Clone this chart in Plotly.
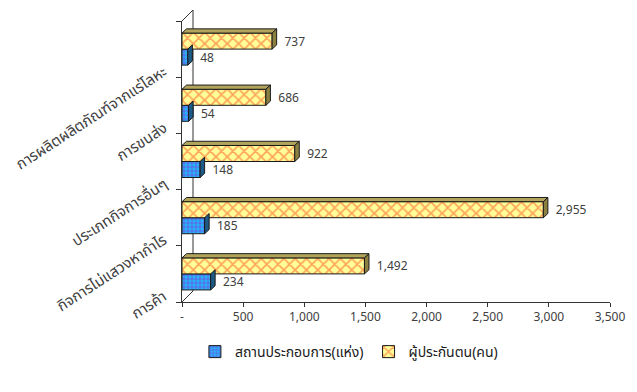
import plotly.graph_objects as go

categories = [
    "การค้า",
    "กิจการไม่แสวงหากำไร",
    "ประเภทกิจการอื่นๆ",
    "การขนส่ง",
    "การผลิตผลิตภัณฑ์จากแร่โลหะ",
]
establishments = [234, 185, 148, 54, 48]
insured = [1492, 2955, 922, 686, 737]

x_ticks = [0, 500, 1000, 1500, 2000, 2500, 3000, 3500]
x_tick_text = ["-", "500", "1,000", "1,500", "2,000", "2,500", "3,000", "3,500"]

FONT = "Tahoma, 'Noto Sans', 'Noto Sans Thai', sans-serif"
TEXT_COLOR = "#404040"
AXIS_COLOR = "#333333"

# bar geometry (in data units) used for the fake 3D faces
BARGAP = 0.43
BAR_W = (1 - BARGAP) / 2
DX = 37      # depth along x, ~4.5 px
DY = 0.075   # depth along y, ~4 px

y_pos = list(range(len(categories)))

fig = go.Figure()
fig.add_trace(go.Bar(
    y=y_pos,
    x=establishments,
    orientation="h",
    name="สถานประกอบการ(แห่ง)",
    marker=dict(
        color="#22b8f5",
        line=dict(color="#1a1a1a", width=1),
        pattern=dict(shape=".", fgcolor="#8a2be2", bgcolor="#22b8f5",
                     size=4, solidity=0.55),
    ),
    texttemplate="\u00a0\u00a0\u00a0%{x:,}",
    textposition="outside",
    textfont=dict(size=13.5, color=TEXT_COLOR),
    cliponaxis=False,
))
fig.add_trace(go.Bar(
    y=y_pos,
    x=insured,
    orientation="h",
    name="ผู้ประกันตน(คน)",
    marker=dict(
        color="#ffff99",
        line=dict(color="#1a1a1a", width=1),
        pattern=dict(shape="x", fgcolor="#ff4d1a", bgcolor="#ffff99",
                     size=8, solidity=0.4),
    ),
    texttemplate="\u00a0\u00a0\u00a0%{x:,}",
    textposition="outside",
    textfont=dict(size=13.5, color=TEXT_COLOR),
    cliponaxis=False,
))

shapes = []
# back wall of the 3D plot
wall_dx, wall_dy = 11 / 428, 11 / 281
for y0 in (0, 1):
    shapes.append(dict(type="line", xref="paper", yref="paper",
                       x0=0, y0=y0, x1=wall_dx, y1=y0 + wall_dy,
                       line=dict(color=AXIS_COLOR, width=1), layer="below"))
shapes.append(dict(type="line", xref="paper", yref="paper",
                   x0=wall_dx, y0=wall_dy, x1=wall_dx, y1=1 + wall_dy,
                   line=dict(color=AXIS_COLOR, width=1), layer="below"))


def face(pts, color):
    path = "M " + " L ".join(f"{x},{y}" for x, y in pts) + " Z"
    return dict(type="path", xref="x", yref="y", path=path,
                fillcolor=color, line=dict(color="#1a1a1a", width=1),
                layer="above")


for i, (e, p) in enumerate(zip(establishments, insured)):
    # blue bar: [i - BAR_W, i], side face only
    b0, b1 = i - BAR_W, i
    shapes.append(face([(e, b0), (e, b1), (e + DX, b1 + DY), (e + DX, b0 + DY)], "#1d5a86"))
    # yellow bar: [i, i + BAR_W]
    y0, y1 = i, i + BAR_W
    shapes.append(face([(0, y1), (p, y1), (p + DX, y1 + DY), (DX, y1 + DY)], "#b3a45c"))
    shapes.append(face([(p, y0), (p, y1), (p + DX, y1 + DY), (p + DX, y0 + DY)], "#8c8040"))

# rotated category labels
annotations = []
for i, cat in enumerate(categories):
    annotations.append(dict(
        xref="paper", yref="y", x=0, y=i,
        text=cat, showarrow=False, textangle=-33,
        xanchor="right", yanchor="top", xshift=-9, yshift=-9,
        font=dict(size=15, color=TEXT_COLOR, family=FONT),
    ))

fig.update_layout(
    width=629,
    height=384,
    barmode="group",
    bargap=BARGAP,
    bargroupgap=0,
    paper_bgcolor="white",
    plot_bgcolor="white",
    font=dict(family=FONT, size=12, color=TEXT_COLOR),
    margin=dict(l=174, r=27, t=13, b=90),
    showlegend=True,
    legend=dict(
        orientation="h",
        x=0.39, xanchor="center",
        y=-0.178, yanchor="middle",
        font=dict(size=14, color="#1a1a1a"),
        traceorder="normal",
        itemwidth=30,
    ),
    shapes=shapes,
    annotations=annotations,
)
fig.update_xaxes(
    range=[0, 3500],
    tickvals=x_ticks,
    ticktext=x_tick_text,
    showgrid=False,
    zeroline=False,
    showline=True,
    linecolor=AXIS_COLOR,
    linewidth=1,
    ticks="outside",
    ticklen=4,
    tickcolor=AXIS_COLOR,
    tickfont=dict(size=12, color=TEXT_COLOR),
)
fig.update_yaxes(
    range=[-0.5, len(categories) - 0.5],
    tickvals=[k - 0.5 for k in range(len(categories) + 1)],
    showticklabels=False,
    showgrid=False,
    zeroline=False,
    showline=True,
    linecolor=AXIS_COLOR,
    linewidth=1,
    ticks="outside",
    ticklen=5,
    tickcolor=AXIS_COLOR,
)

fig.write_html("out.html")
